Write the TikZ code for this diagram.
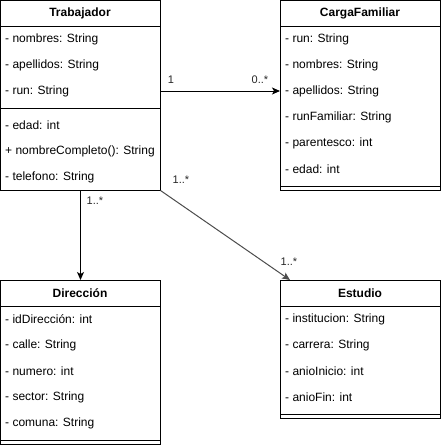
\documentclass[tikz,border=0pt]{standalone}
\usepackage{fontspec}
\setmainfont{Liberation Sans}
\usetikzlibrary{arrows.meta}
\tikzset{
  classbox/.style={draw=black, line width=1pt, fill=white, anchor=north west, inner sep=0pt, outer sep=0pt},
  rowtext/.style={anchor=west, inner sep=0pt, font=\fontsize{12}{14}\selectfont},
  headtext/.style={anchor=center, inner sep=0pt, font=\fontsize{12}{14}\selectfont\bfseries},
  sepline/.style={draw=black, line width=1pt},
  assoc/.style={draw=black, line width=1pt, -{Stealth[length=8pt,width=7pt,inset=2pt]}},
  assocgray/.style={draw=black!70, line width=1pt, -{Stealth[length=8pt,width=7pt,inset=2pt]}},
  mult/.style={inner sep=0pt, text=black!85, font=\fontsize{11}{13}\selectfont}
}
\begin{document}
\begin{tikzpicture}[x=1pt,y=-1pt]
\useasboundingbox (0,0) rectangle (441,445);
% Trabajador
\node[classbox, minimum width=160pt, minimum height=190pt] (trab) at (0.5,0.5) {};
\node[headtext] (trabh) at (80,13) {Trabajador};
\draw[sepline] (0.5,26) -- (160.5,26);
\node[rowtext] (t1) at (5,39) {- nombres: String};
\node[rowtext] (t2) at (5,65) {- apellidos: String};
\node[rowtext] (t3) at (5,91) {- run: String};
\draw[sepline] (0.5,108) -- (160.5,108);
\node[rowtext] (t4) at (5,125) {- edad: int};
\node[rowtext] (t5) at (5,151) {+ nombreCompleto(): String};
\node[rowtext] (t6) at (5,177) {- telefono: String};
% CargaFamiliar
\node[classbox, minimum width=160pt, minimum height=190pt] (carga) at (280,0.5) {};
\node[headtext] (cargah) at (360,13) {CargaFamiliar};
\draw[sepline] (280,26) -- (440,26);
\node[rowtext] (c1) at (285,39) {- run: String};
\node[rowtext] (c2) at (285,65) {- nombres: String};
\node[rowtext] (c3) at (285,91) {- apellidos: String};
\node[rowtext] (c4) at (285,117) {- runFamiliar: String};
\node[rowtext] (c5) at (285,143) {- parentesco: int};
\node[rowtext] (c6) at (285,169) {- edad: int};
\draw[sepline] (280,186) -- (440,186);
% Direccion
\node[classbox, minimum width=160pt, minimum height=164pt] (dir) at (0.5,280) {};
\node[headtext] (dirh) at (80,293) {Dirección};
\draw[sepline] (0.5,306) -- (160.5,306);
\node[rowtext] (d1) at (5,319) {- idDirección: int};
\node[rowtext] (d2) at (5,345) {- calle: String};
\node[rowtext] (d3) at (5,371) {- numero: int};
\node[rowtext] (d4) at (5,397) {- sector: String};
\node[rowtext] (d5) at (5,423) {- comuna: String};
\draw[sepline] (0.5,440) -- (160.5,440);
% Estudio
\node[classbox, minimum width=160pt, minimum height=138pt] (est) at (280,280) {};
\node[headtext] (esth) at (360,293) {Estudio};
\draw[sepline] (280,306) -- (440,306);
\node[rowtext] (e1) at (285,319) {- institucion: String};
\node[rowtext] (e2) at (285,345) {- carrera: String};
\node[rowtext] (e3) at (285,371) {- anioInicio: int};
\node[rowtext] (e4) at (285,397) {- anioFin: int};
\draw[sepline] (280,414) -- (440,414);
% connectors
\draw[assoc] ([yshift=-90.5pt]trab.north east) -- ([yshift=-90.5pt]carga.north west);
\draw[assoc] (trab.south) -- (dir.north);
\draw[assocgray] (trab.south east) -- ([xshift=10pt]est.north west);
% multiplicities
\node[mult] (m1) at (171,80) {1};
\node[mult] (m2) at (260,80) {0..*};
\node[mult] (m3) at (95,201) {1..*};
\node[mult] (m4) at (181,180) {1..*};
\node[mult] (m5) at (289,262) {1..*};
\end{tikzpicture}
\end{document}
